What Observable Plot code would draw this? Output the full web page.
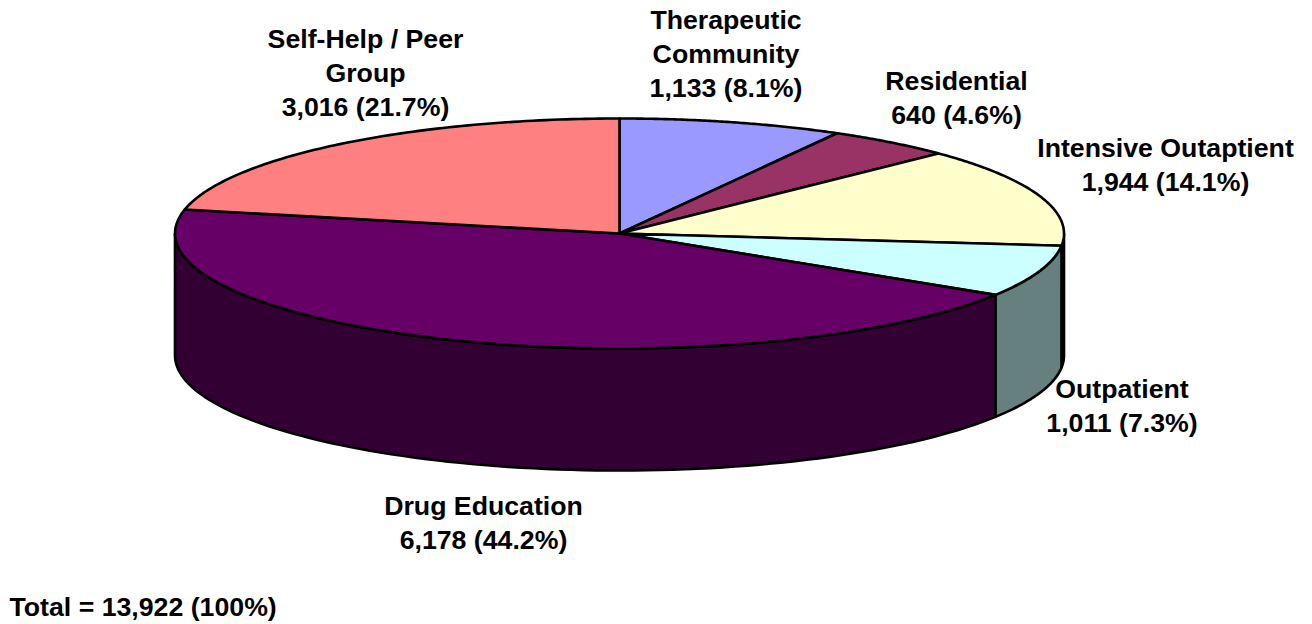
<!DOCTYPE html>
<html><head><meta charset="utf-8">
<script src="https://cdn.jsdelivr.net/npm/d3@7"></script>
<script src="https://cdn.jsdelivr.net/npm/@observablehq/plot@0.6"></script>
<style>html,body{margin:0;padding:0;background:#fff;overflow:hidden}svg{display:block}</style>
</head><body><div id="chart"></div>
<script>
const categories = ["Therapeutic Community","Residential","Intensive Outaptient","Outpatient","Drug Education","Self-Help / Peer Group"];
const values = [1133,640,1944,1011,6178,3016];
const topColors = ["#9999ff","#993366","#ffffcc","#ccffff","#660066","#ff8080"];
const sideColors = ["#4d4d80","#4d1a33","#808066","#668080","#330033","#804040"];
const labelTexts = ["Therapeutic\nCommunity\n1,133 (8.1%)","Residential\n640 (4.6%)","Intensive Outaptient\n1,944 (14.1%)","Outpatient\n1,011 (7.3%)","Drug Education\n6,178 (44.2%)","Self-Help / Peer\nGroup\n3,016 (21.7%)"];
const labelX = [725.5,956,1165,1121.5,483,365];
const labelY = [52,96,163,404,521,71];
const totalText = "Total = 13,922 (100%)";

const cx = 619, cy = 233, rx = 444.5, ry = 115, depth = 122;
const total = d3.sum(values);
const pt = (a, dy = 0) => ({x: cx + rx * Math.sin(a), y: cy - ry * Math.cos(a) + dy});
const arc = (a0, a1) => d3.range(0, 91).map(i => a0 + (a1 - a0) * i / 90);

let acc = 0;
const slices = values.map((v, i) => {
  const a0 = acc / total * 2 * Math.PI; acc += v;
  return {i, a0, a1: acc / total * 2 * Math.PI};
});

const rows = [];
let id = 0;
// visible wall: the part of each slice's rim on the front half of the ellipse
for (const s of slices) {
  const lo = Math.max(s.a0, Math.PI / 2), hi = Math.min(s.a1, 3 * Math.PI / 2);
  if (hi <= lo) continue;
  const as = arc(lo, hi);
  const poly = [...as.map(a => pt(a)), ...as.slice().reverse().map(a => pt(a, depth))];
  poly.push(poly[0]);
  poly.forEach(p => rows.push({...p, id, color: sideColors[s.i]}));
  id++;
}
// top faces
for (const s of slices) {
  const poly = [{x: cx, y: cy}, ...arc(s.a0, s.a1).map(a => pt(a)), {x: cx, y: cy}];
  poly.forEach(p => rows.push({...p, id, color: topColors[s.i]}));
  id++;
}
const labels = labelTexts.map((t, i) => ({t, x: labelX[i], y: labelY[i]}));
labels.push({t: totalText, x: 9, y: 605, left: true});

const font = {fontFamily: "Liberation Sans, Arial, sans-serif", fontWeight: "bold", fontSize: 26.7, fill: "#000", stroke: "none", lineHeight: 1.27};
const chart = Plot.plot({
  width: 1312, height: 624, margin: 0, style: {background: "#fff"},
  x: {domain: [0, 1312], range: [0, 1312], axis: null},
  y: {domain: [0, 624], range: [0, 624], axis: null},
  marks: [
    Plot.line(rows, {x: "x", y: "y", z: "id", fill: "color", stroke: "#000", strokeWidth: 2.6, curve: "linear", strokeLinejoin: "round"}),
    Plot.text(labels.filter(d => !d.left), {x: "x", y: "y", text: "t", textAnchor: "middle", ...font}),
    Plot.text(labels.filter(d => d.left), {x: "x", y: "y", text: "t", textAnchor: "start", ...font})
  ]
});
document.getElementById("chart").append(chart);
</script></body></html>
